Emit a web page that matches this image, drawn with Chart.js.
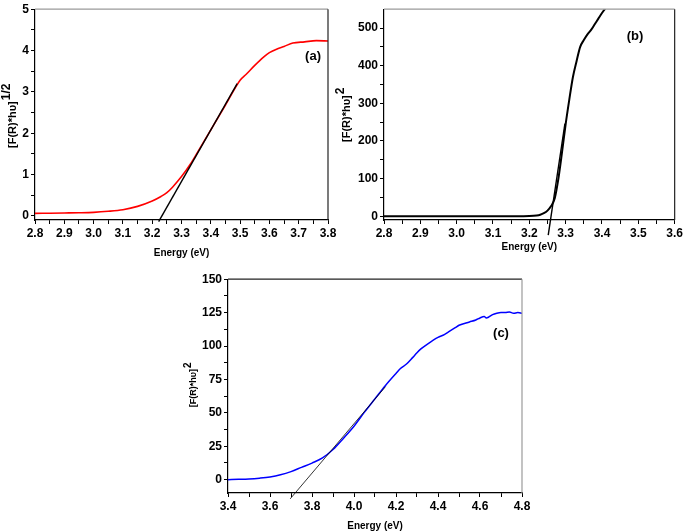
<!DOCTYPE html>
<html>
<head>
<meta charset="utf-8">
<script src="https://cdn.jsdelivr.net/npm/chart.js@4.4.1/dist/chart.umd.min.js"></script>
<style>
  body { margin: 0; background: #fff; }
  #wrap { position: relative; width: 685px; height: 532px; background: #fff; }
  canvas { position: absolute; }
</style>
</head>
<body>
<div id="wrap">
  <canvas id="chartA" width="345" height="262" style="left:0;top:0"></canvas>
  <canvas id="chartB" width="355" height="262" style="left:330px;top:0"></canvas>
  <canvas id="chartC" width="380" height="262" style="left:170px;top:270px"></canvas>
</div>
<script>
// panel (a): [F(R)*hv]^1/2 vs energy
const energyA = [2.80, 2.85, 2.90, 2.95, 3.00, 3.05, 3.10, 3.15, 3.20, 3.23, 3.25, 3.27, 3.30, 3.33, 3.35, 3.40, 3.45, 3.50, 3.52, 3.55, 3.58, 3.60, 3.63, 3.65, 3.68, 3.72, 3.76, 3.80];
const kmA = [0.06, 0.065, 0.07, 0.075, 0.085, 0.11, 0.15, 0.23, 0.36, 0.47, 0.56, 0.70, 0.95, 1.25, 1.48, 2.08, 2.68, 3.28, 3.42, 3.64, 3.84, 3.95, 4.05, 4.10, 4.18, 4.21, 4.24, 4.23];
const fitAx = [3.222, 3.49];
const fitAy = [-0.14, 3.2];

// panel (b): [F(R)*hv]^2
const energyB = [2.80, 2.90, 3.00, 3.10, 3.18, 3.20, 3.22, 3.23, 3.24, 3.25, 3.26, 3.27, 3.28, 3.29, 3.30, 3.31, 3.32, 3.33, 3.34, 3.35, 3.36, 3.37, 3.38, 3.39, 3.40, 3.41, 3.42];
const kmB = [0, 0, 0, 0, 0.2, 0.5, 2, 4, 8, 15, 27, 48, 100, 170, 245, 310, 370, 412, 450, 468, 483, 495, 510, 525, 540, 553, 565];
const fitBx = [3.252, 3.298];
const fitBy = [-50, 246];

// panel (c): [F(R)*hv]^2
const energyC = [3.40, 3.45, 3.50, 3.55, 3.60, 3.65, 3.70, 3.75, 3.80, 3.85, 3.90, 3.95, 4.00, 4.05, 4.10, 4.15, 4.20, 4.22, 4.25, 4.28, 4.30, 4.32, 4.35, 4.40, 4.43, 4.45, 4.48, 4.50, 4.55, 4.58, 4.60, 4.62, 4.63, 4.64, 4.66, 4.68, 4.70, 4.72, 4.74, 4.76, 4.78, 4.80];
const kmC = [0, 0.2, 0.5, 1.1, 2, 3.6, 6.0, 9.2, 12.4, 16.2, 22.5, 31, 40, 50.5, 60.5, 70.5, 79.5, 83, 86.5, 91.5, 95, 98, 101.5, 106.5, 108.5, 110.5, 113.5, 115.5, 118, 119.5, 121, 122, 121, 121.5, 123.5, 124.5, 125, 125, 125.5, 124.5, 125, 124.5];
const fitCx = [3.696, 4.15];
const fitCy = [-14.4, 69.6];

// major tick labels
const xTicksA = [2.8, 2.9, 3.0, 3.1, 3.2, 3.3, 3.4, 3.5, 3.6, 3.7, 3.8];
const yTicksA = [0, 1, 2, 3, 4, 5];
const xTicksB = [2.8, 2.9, 3.0, 3.1, 3.2, 3.3, 3.4, 3.5, 3.6];
const yTicksB = [0, 100, 200, 300, 400, 500];
const xTicksC = [3.4, 3.6, 3.8, 4.0, 4.2, 4.4, 4.6, 4.8];
const yTicksC = [0, 25, 50, 75, 100, 125, 150];

const FONT = '"Liberation Sans", Arial, sans-serif';

function pts(xs, ys) {
  return xs.map((x, i) => ({ x: x, y: ys[i] }));
}

// majors plus a minor tick halfway between each pair
function withMinors(majors) {
  const out = [];
  majors.forEach((m, i) => {
    out.push(m);
    if (i < majors.length - 1) out.push(+((m + majors[i + 1]) / 2).toFixed(4));
  });
  return out;
}

function axis(min, max, majors, decimals, size, isX) {
  const cfg = {
    type: 'linear',
    min: min,
    max: max,
    afterBuildTicks: s => { s.ticks = withMinors(majors).map(v => ({ value: v })); },
    ticks: {
      autoSkip: false,
      maxRotation: 0,
      padding: 2,
      color: '#000',
      font: { family: FONT, size: 12, weight: 'bold' },
      callback: v => majors.some(m => Math.abs(m - v) < 1e-6) ? v.toFixed(decimals) : ''
    },
    grid: { drawOnChartArea: false, drawTicks: true, tickLength: 4, tickColor: '#000', tickWidth: 1 },
    border: { display: true, color: '#000', width: 1.2 }
  };
  if (isX) cfg.afterFit = s => { s.height = size; };
  else cfg.afterFit = s => { s.width = size; };
  return cfg;
}

// top/right frame, rotated y title with superscript, panel letter
const framePlugin = {
  id: 'frame',
  afterDraw(chart, args, o) {
    const ctx = chart.ctx;
    const a = chart.chartArea;
    ctx.save();
    ctx.lineWidth = 1.2;
    ctx.strokeStyle = o.topColor;
    ctx.beginPath(); ctx.moveTo(a.left, a.top); ctx.lineTo(a.right, a.top); ctx.stroke();
    ctx.strokeStyle = o.rightColor;
    ctx.beginPath(); ctx.moveTo(a.right, a.top); ctx.lineTo(a.right, a.bottom); ctx.stroke();

    ctx.fillStyle = '#000';
    ctx.font = 'bold 13px ' + FONT;
    ctx.textAlign = 'center';
    ctx.textBaseline = 'middle';
    ctx.fillText(o.label, chart.scales.x.getPixelForValue(o.labelAt[0]), chart.scales.y.getPixelForValue(o.labelAt[1]));

    ctx.translate(a.left + o.titleDx, (a.top + a.bottom) / 2 + o.titleDy);
    ctx.rotate(-Math.PI / 2);
    ctx.font = 'bold ' + o.titleSize + 'px ' + FONT;
    const w = ctx.measureText(o.title).width;
    ctx.fillText(o.title, 0, 0);
    ctx.font = 'bold ' + (o.titleSize + 1) + 'px ' + FONT;
    ctx.textAlign = 'left';
    ctx.fillText(o.sup, w / 2 + 1, -o.titleSize * 0.6);
    ctx.restore();
  }
};

function makeChart(id, curve, color, curveWidth, fit, fitWidth, x, y, pad, frame, titlePad) {
  x.title = {
    display: true,
    text: 'Energy (eV)',
    color: '#000',
    font: { family: FONT, size: 10, weight: 'bold' },
    padding: { top: 0, bottom: titlePad }
  };
  return new Chart(document.getElementById(id).getContext('2d'), {
    type: 'line',
    data: {
      datasets: [{
        data: fit,
        borderColor: '#000',
        borderWidth: fitWidth,
        pointRadius: 0,
        clip: { left: 0, top: 0, right: 0, bottom: 20 }
      }, {
        data: curve,
        borderColor: color,
        borderWidth: curveWidth,
        pointRadius: 0,
        cubicInterpolationMode: 'monotone'
      }]
    },
    options: {
      responsive: false,
      animation: false,
      events: [],
      layout: { padding: pad },
      scales: { x: x, y: y },
      plugins: {
        legend: { display: false },
        tooltip: { enabled: false },
        frame: frame
      }
    },
    plugins: [framePlugin]
  });
}

makeChart('chartA', pts(energyA, kmA), '#ff0000', 1.6, pts(fitAx, fitAy), 1.4,
  axis(2.8, 3.8, xTicksA, 1, 42, true),
  axis(-0.1, 5, yTicksA, 0, 35, false),
  { left: 0, top: 5, right: 17, bottom: 0 },
  { topColor: '#9a9a9a', rightColor: '#222', label: '(a)', labelAt: [3.749, 3.86],
    title: '[F(R)*h\u03c5]', sup: '1/2', titleSize: 11, titleDx: -22, titleDy: 10 },
  3);

makeChart('chartB', pts(energyB, kmB), '#000000', 2, pts(fitBx, fitBy), 1.4,
  axis(2.8, 3.6, xTicksB, 1, 42, true),
  axis(-10, 550, yTicksB, 0, 54, false),
  { left: 0, top: 5, right: 2, bottom: 0 },
  { topColor: '#9a9a9a', rightColor: '#222', label: '(b)', labelAt: [3.491, 479],
    title: '[F(R)*h\u03c5]', sup: '2', titleSize: 11, titleDx: -37, titleDy: 4 },
  9);

makeChart('chartC', pts(energyC, kmC), '#0000ff', 1.5, pts(fitCx, fitCy), 0.8,
  axis(3.4, 4.8, xTicksC, 1, 39, true),
  axis(-10, 150, yTicksC, 0, 58, false),
  { left: 0, top: 8, right: 28, bottom: 0 },
  { topColor: '#222', rightColor: '#9a9a9a', label: '(c)', labelAt: [4.70, 109.5],
    title: '[F(R)*h\u03c5]', sup: '2', titleSize: 9, titleDx: -34, titleDy: 2 },
  0);
</script>
</body>
</html>
